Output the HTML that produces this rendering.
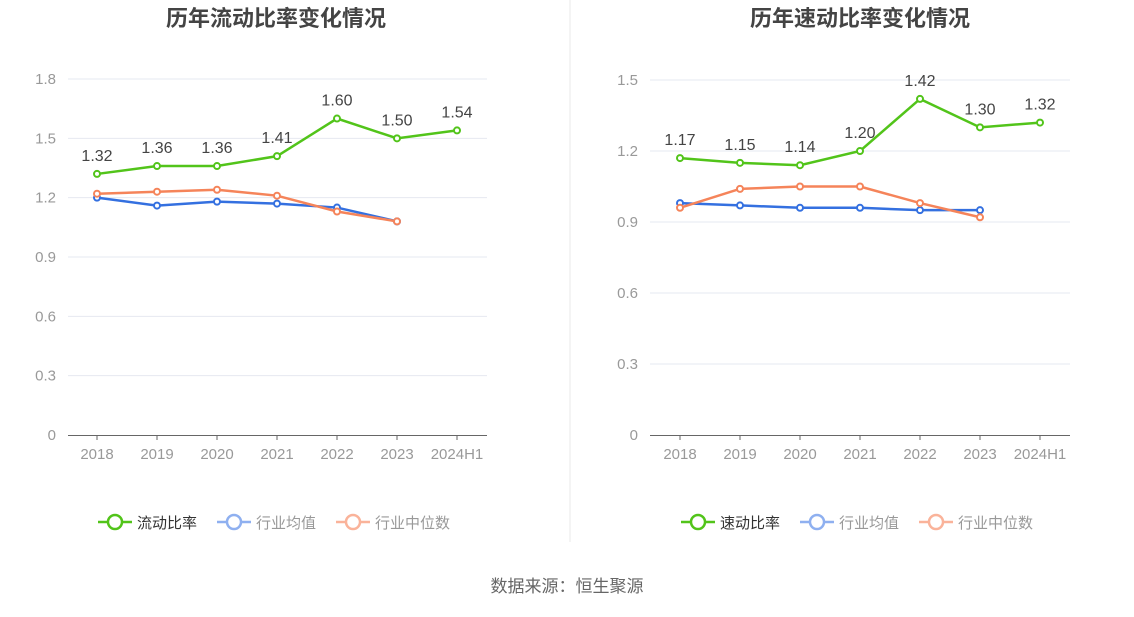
<!DOCTYPE html>
<html><head><meta charset="utf-8"><style>
body{margin:0;background:#fff;font-family:"Liberation Sans","Noto Sans CJK SC",sans-serif}
svg text{font-family:"Liberation Sans","Noto Sans CJK SC",sans-serif}
</style></head><body>
<svg id="s" width="1134" height="612" xmlns="http://www.w3.org/2000/svg">
<line x1="570" y1="0" x2="570" y2="542" stroke="#e8e8e8"/>
<text x="567" y="592" text-anchor="middle" font-size="17" fill="#666">数据来源：恒生聚源</text>
</svg>
<script>
const categories=["2018","2019","2020","2021","2022","2023","2024H1"];
const leftTicks=[0,0.3,0.6,0.9,1.2,1.5,1.8];
const leftMain=[1.32,1.36,1.36,1.41,1.60,1.50,1.54];
const leftAvg=[1.20,1.16,1.18,1.17,1.15,1.08];
const leftMed=[1.22,1.23,1.24,1.21,1.13,1.08];
const rightTicks=[0,0.3,0.6,0.9,1.2,1.5];
const rightMain=[1.17,1.15,1.14,1.20,1.42,1.30,1.32];
const rightAvg=[0.98,0.97,0.96,0.96,0.95,0.95];
const rightMed=[0.96,1.04,1.05,1.05,0.98,0.92];
const NS="http://www.w3.org/2000/svg";
const svg=document.getElementById('s');
function mk(t,a,p){const e=document.createElementNS(NS,t);for(const k in a)e.setAttribute(k,a[k]);(p||svg).appendChild(e);return e;}
function chart(o){
 const g=mk('g',{});
 
 
 const max=o.ticks[o.ticks.length-1];
 const y=v=>435-v/max*(435-o.top);
 const x=i=>o.x0+i*60;
 const t=mk('text',{x:o.cx,y:26,'text-anchor':'middle','font-size':22,'font-weight':'bold',fill:'#444'},g);t.textContent=o.title;
 
 
 o.ticks.forEach(v=>{
  if(v>0){const l=mk('line',{x1:o.ax0,x2:o.ax1,y1:y(v),y2:y(v),stroke:'#e6e8f0'},g);
  
  }
  const tx=mk('text',{x:o.ax0-12,y:y(v)+5,'text-anchor':'end','font-size':15,fill:'#999'},g);tx.textContent=v===0?'0':v.toFixed(1);
  
  
 });
 const ax=mk('line',{x1:o.ax0,x2:o.ax1,y1:435.5,y2:435.5,stroke:'#666'},g);
 
 
 categories.forEach((c,i)=>{
  mk('line',{x1:x(i),x2:x(i),y1:435,y2:440,stroke:'#666'},g);
  const tx=mk('text',{x:x(i),y:459,'text-anchor':'middle','font-size':15,fill:'#999'},g);tx.textContent=c;
  
  
 });
 const series=[[o.avg,'#3470e0','industry-average-line'],[o.med,'#f5845a','industry-median-line'],[o.main,'#52c41a','main-ratio-line']];
 series.forEach(([d,c,n])=>{
  const p=mk('polyline',{points:d.map((v,i)=>x(i)+','+y(v)).join(' '),fill:'none',stroke:c,'stroke-width':2.5},g);
  
  
  d.forEach((v,i)=>{const ci=mk('circle',{cx:x(i),cy:y(v),r:3,fill:'#fff',stroke:c,'stroke-width':2},g);
   
   });
 });
 o.main.forEach((v,i)=>{const tx=mk('text',{x:x(i),y:y(v)-13,'text-anchor':'middle','font-size':16,fill:'#444'},g);tx.textContent=v.toFixed(2);
  
  });
 const leg=[[o.legend,'#52c41a','#333'],['行业均值','#8fb0f0','#999'],['行业中位数','#fab39a','#999']];
 let lx=o.lx;
 leg.forEach(([n,c,tc],k)=>{
  const lg=mk('g',{},g);
  
  
  mk('line',{x1:lx,x2:lx+34,y1:522,y2:522,stroke:c,'stroke-width':2.5},lg);
  mk('circle',{cx:lx+17,cy:522,r:7,fill:'#fff',stroke:c,'stroke-width':2.5},lg);
  const tx=mk('text',{x:lx+39,y:528,'font-size':15,fill:tc},lg);tx.textContent=n;
  lx+=39+n.length*15+20;
 });
}
chart({name:'current-ratio-chart',title:'历年流动比率变化情况',cx:276,top:79,x0:97,ax0:68,ax1:487,ticks:leftTicks,main:leftMain,avg:leftAvg,med:leftMed,legend:'流动比率',lx:98});
chart({name:'quick-ratio-chart',title:'历年速动比率变化情况',cx:860,top:80,x0:680,ax0:650,ax1:1070,ticks:rightTicks,main:rightMain,avg:rightAvg,med:rightMed,legend:'速动比率',lx:681});
</script>
</body></html>
